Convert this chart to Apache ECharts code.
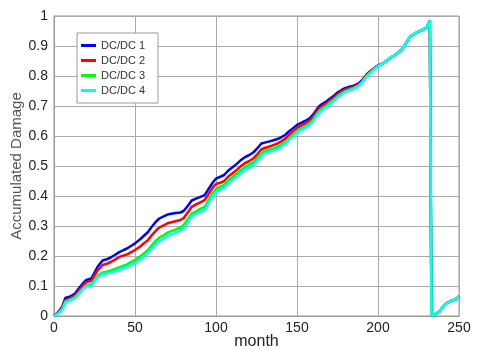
<!DOCTYPE html>
<html><head><meta charset="utf-8">
<script src="https://cdn.jsdelivr.net/npm/echarts@6/dist/echarts.min.js"></script>
<style>html,body{margin:0;padding:0;background:#fff}#c{width:477px;height:351px}</style>
</head><body><div id="c"></div>
<script>
const months = [0,3,5,7,10,13,15,18,20,23,25,27,30,33,35,38,40,43,45,48,50,53,55,58,60,63,65,68,70,75,78,80,83,85,88,90,93,95,98,100,103,105,108,110,113,115,118,120,123,125,128,130,133,135,138,140,143,145,148,150,153,155,158,160,163,165,168,170,173,175,178,180,183,185,188,190,193,195,198,200,203,205,208,210,213,215,218,220,223,225,228,230,232,233,233,236,238,240,242,245,248,250];
const dc1 = [0,0.015,0.03,0.06,0.065,0.075,0.09,0.11,0.12,0.125,0.145,0.165,0.185,0.19,0.195,0.205,0.212,0.22,0.225,0.235,0.242,0.255,0.265,0.28,0.295,0.315,0.325,0.333,0.338,0.343,0.345,0.35,0.37,0.385,0.392,0.396,0.403,0.42,0.445,0.458,0.465,0.47,0.487,0.495,0.508,0.518,0.53,0.535,0.545,0.556,0.575,0.578,0.582,0.585,0.59,0.595,0.605,0.615,0.628,0.637,0.645,0.65,0.66,0.672,0.695,0.705,0.715,0.723,0.735,0.745,0.755,0.76,0.765,0.768,0.775,0.785,0.805,0.815,0.828,0.835,0.842,0.85,0.862,0.868,0.88,0.89,0.915,0.932,0.942,0.948,0.955,0.962,0.985,0.99,0.0,0.008,0.015,0.03,0.042,0.05,0.055,0.065];
const dc2 = [0,0.013,0.025,0.052,0.059,0.069,0.082,0.102,0.113,0.117,0.135,0.153,0.17,0.175,0.18,0.189,0.196,0.202,0.205,0.214,0.22,0.231,0.24,0.253,0.267,0.285,0.295,0.303,0.309,0.316,0.32,0.326,0.348,0.364,0.373,0.378,0.386,0.403,0.428,0.44,0.445,0.45,0.467,0.475,0.488,0.498,0.51,0.515,0.525,0.536,0.555,0.56,0.565,0.569,0.575,0.581,0.592,0.603,0.617,0.627,0.636,0.641,0.652,0.664,0.688,0.698,0.708,0.717,0.729,0.739,0.75,0.755,0.761,0.764,0.772,0.782,0.803,0.813,0.827,0.835,0.842,0.85,0.862,0.868,0.88,0.89,0.915,0.932,0.942,0.948,0.955,0.962,0.985,0.99,0.0,0.008,0.015,0.03,0.042,0.05,0.056,0.066];
const dc3 = [0,0.011,0.022,0.048,0.055,0.063,0.075,0.093,0.103,0.105,0.12,0.135,0.145,0.148,0.152,0.158,0.162,0.168,0.172,0.181,0.187,0.198,0.207,0.22,0.233,0.252,0.261,0.27,0.278,0.288,0.295,0.303,0.325,0.341,0.35,0.356,0.364,0.382,0.41,0.423,0.432,0.437,0.454,0.462,0.475,0.485,0.497,0.502,0.512,0.523,0.542,0.55,0.555,0.558,0.564,0.57,0.581,0.592,0.607,0.617,0.626,0.632,0.643,0.655,0.679,0.69,0.701,0.71,0.723,0.733,0.744,0.75,0.756,0.76,0.768,0.779,0.8,0.811,0.825,0.833,0.842,0.85,0.862,0.868,0.88,0.89,0.915,0.932,0.942,0.948,0.955,0.962,0.985,0.99,0.0,0.008,0.015,0.03,0.042,0.05,0.055,0.065];
const dc4 = [0,0.01,0.02,0.045,0.052,0.06,0.072,0.09,0.1,0.101,0.115,0.13,0.14,0.142,0.145,0.15,0.154,0.16,0.163,0.171,0.177,0.188,0.197,0.21,0.223,0.241,0.25,0.259,0.267,0.277,0.285,0.292,0.315,0.333,0.342,0.346,0.353,0.372,0.4,0.413,0.423,0.428,0.445,0.453,0.466,0.476,0.488,0.493,0.503,0.514,0.533,0.543,0.548,0.551,0.557,0.563,0.575,0.586,0.601,0.612,0.621,0.627,0.638,0.65,0.674,0.685,0.696,0.705,0.718,0.729,0.741,0.747,0.753,0.757,0.766,0.777,0.798,0.809,0.824,0.832,0.842,0.85,0.862,0.868,0.88,0.89,0.915,0.932,0.942,0.948,0.955,0.962,0.985,0.99,0.0,0.008,0.015,0.03,0.042,0.05,0.055,0.065];
const names = ['DC/DC 1','DC/DC 2','DC/DC 3','DC/DC 4'];
const colors = ['#0000ff','#ff0000','#00ff00','#00ffff'];
const seriesVals = [dc1,dc2,dc3,dc4];
const FONT = 'Liberation Sans, Arial, sans-serif';

const chart = echarts.init(document.getElementById('c'), null, {renderer:'canvas'});
chart.setOption({
  animation:false,
  backgroundColor:'#fff',
  grid:{left:54,right:18,top:16,bottom:35,show:true,borderColor:'#999',borderWidth:1,containLabel:false,outerBoundsMode:'none'},
  legend:{
    orient:'vertical',left:77,top:33,
    icon:'rect',itemWidth:15,itemHeight:3,itemGap:4,
    padding:[7,13,7,4],
    backgroundColor:'#fff',borderColor:'#999',borderWidth:1,
    textStyle:{fontFamily:FONT,fontSize:11,color:'#333',lineHeight:11},
    data:names
  },
  xAxis:{
    type:'value',min:0,max:250,interval:50,
    name:'month',nameLocation:'middle',nameGap:18,nameMoveOverlap:false,
    nameTextStyle:{fontFamily:FONT,fontSize:16,color:'#222'},
    axisLine:{show:true,lineStyle:{color:'#999'}},
    axisTick:{show:false},
    axisLabel:{fontFamily:FONT,fontSize:14,color:'#222',margin:5},
    splitLine:{show:true,lineStyle:{color:'#aaa',width:1}}
  },
  yAxis:{
    type:'value',min:0,max:1,interval:0.1,
    name:'Accumulated Damage',nameLocation:'middle',nameGap:30,nameMoveOverlap:false,
    nameTextStyle:{fontFamily:FONT,fontSize:15,color:'#555'},
    axisLine:{show:true,lineStyle:{color:'#999'}},
    axisTick:{show:false},
    axisLabel:{fontFamily:FONT,fontSize:14,color:'#222',margin:6},
    splitLine:{show:true,lineStyle:{color:'#aaa',width:1}}
  },
  series: names.map((n,i)=>({
    name:n,type:'line',showSymbol:false,symbol:'none',
    color:colors[i],
    lineStyle:{color:colors[i],width:2.5},
    data: months.map((m,k)=>[m,seriesVals[i][k]])
  }))
});
</script></body></html>
